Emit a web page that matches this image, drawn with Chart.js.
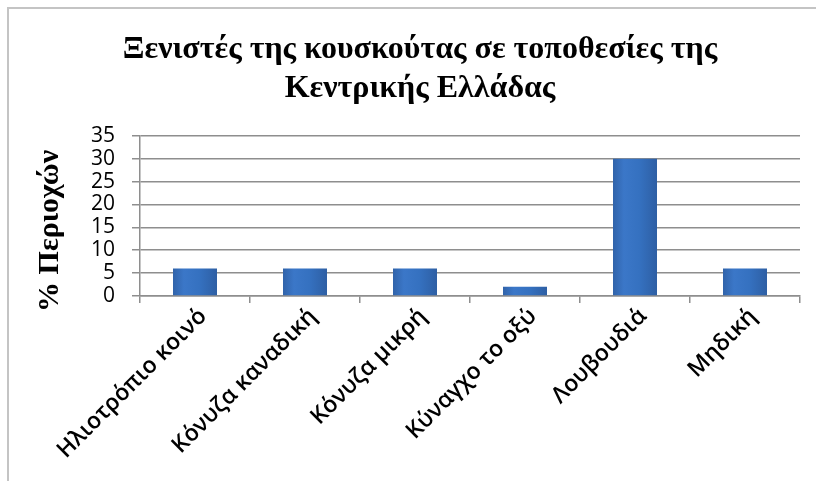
<!DOCTYPE html>
<html>
<head>
<meta charset="utf-8">
<script src="https://cdn.jsdelivr.net/npm/chart.js@4/dist/chart.umd.min.js"></script>
<style>
    html, body { margin: 0; padding: 0; background: #fff; overflow: hidden; width: 816px; height: 481px; }
    #frame { position: absolute; left: 7px; top: 7px; width: 900px; height: 600px; border-left: 2px solid #c4c4c4; border-top: 2px solid #c4c4c4; }
    #wrap { position: absolute; left: 0; top: 0; width: 840px; height: 481px; }
</style>
</head>
<body>
<div id="frame"></div>
<div id="wrap"><canvas id="chart"></canvas></div>
<script>
const titleLines = ['Ξενιστές της κουσκούτας σε τοποθεσίες της', 'Κεντρικής Ελλάδας'];
const yTitle = '% Περιοχών    ';
const categories = ['Ηλιοτρόπιο κοινό', 'Κόνυζα καναδική', 'Κόνυζα μικρή', 'Κύναγχο το οξύ', 'Λουβουδιά', 'Μηδική'];
const values = [6, 6, 6, 2, 30, 6];
const yTicks = [0, 5, 10, 15, 20, 25, 30, 35];

const gridColor = '#8e8e8e';

// office style bar shading, left to right
function barFill(ctx) {
    let chart = ctx.chart;
    if (!chart.chartArea || !chart.scales.x) return '#3670bf';
    let x = chart.scales.x.getPixelForValue(ctx.dataIndex);
    let w = chart.scales.x.width / categories.length * 0.4;
    let g = chart.ctx.createLinearGradient(x - w / 2, 0, x + w / 2, 0);
    g.addColorStop(0, '#3063aa');
    g.addColorStop(0.25, '#3b77c8');
    g.addColorStop(0.6, '#3571c0');
    g.addColorStop(1, '#2e5fa4');
    return g;
}

new Chart(document.getElementById('chart'), {
    type: 'bar',
    data: {
        labels: categories,
        datasets: [{
            data: values,
            backgroundColor: barFill,
            borderWidth: 0,
            barPercentage: 0.4,
            categoryPercentage: 1.0
        }]
    },
    options: {
        responsive: true,
        maintainAspectRatio: false,
        animation: false,
        layout: { padding: 0 },
        plugins: {
            legend: { display: false },
            tooltip: { enabled: false },
            title: {
                display: true,
                text: titleLines,
                color: '#000',
                font: { family: '"Liberation Serif", "DejaVu Serif", serif', size: 32, weight: 'bold', lineHeight: 1.2 },
                padding: { top: 31, bottom: 28 }
            }
        },
        scales: {
            x: {
                grid: { display: true, offset: true, drawOnChartArea: false, drawTicks: true, tickLength: 7, color: gridColor, lineWidth: 1.5 },
                border: { display: true, color: gridColor, width: 1.5 },
                ticks: {
                    color: '#000',
                    font: { family: '"Open Sans", sans-serif', size: 23, weight: '600' },
                    minRotation: 45,
                    maxRotation: 45,
                    autoSkip: false,
                    labelOffset: 8,
                    padding: 0
                },
                afterFit(scale) { scale.height = 185; }
            },
            y: {
                min: 0,
                max: 35,
                afterBuildTicks(scale) { scale.ticks = yTicks.map(v => ({ value: v })); },
                grid: { color: gridColor, lineWidth: 1.5, tickLength: 8 },
                border: { display: true, color: gridColor, width: 1.5 },
                ticks: {
                    color: '#000',
                    font: { family: '"Open Sans", sans-serif', size: 21 },
                    autoSkip: false,
                    padding: 17
                },
                title: {
                    display: true,
                    text: yTitle,
                    color: '#000',
                    font: { family: '"Liberation Serif", "DejaVu Serif", serif', size: 30, weight: 'bold' },
                    padding: { top: 32, bottom: 0 }
                },
                afterFit(scale) { scale.width = 140; }
            },
            yr: {
                position: 'right',
                display: true,
                grid: { drawOnChartArea: false, drawTicks: false },
                border: { display: false },
                ticks: { display: false },
                afterFit(scale) { scale.width = 40; }
            }
        }
    }
});
</script>
</body>
</html>
